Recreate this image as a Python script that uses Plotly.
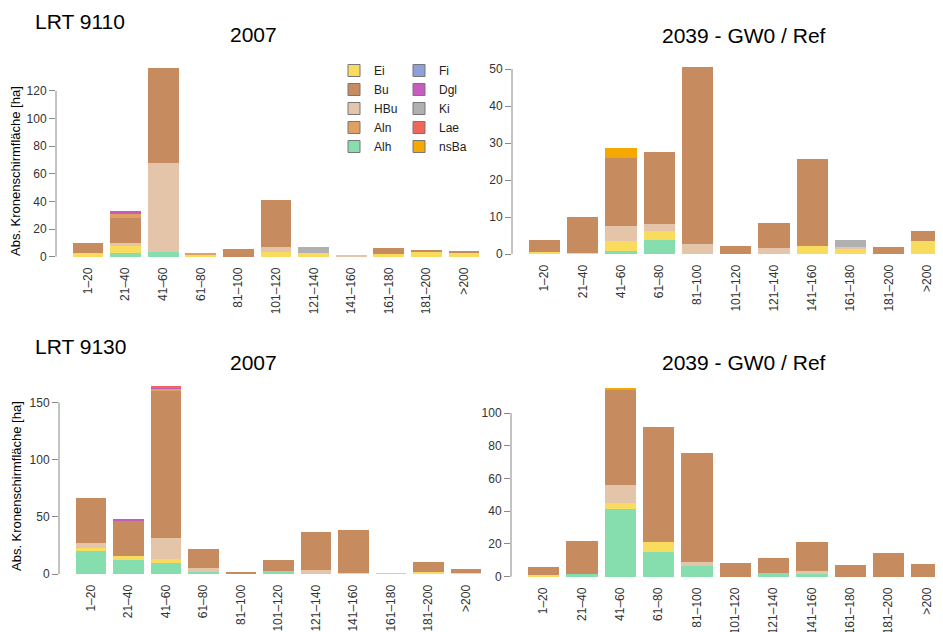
import plotly.graph_objects as go

# Durchmesserklassen (BHD) und Baumarten
klassen = ['1–20', '21–40', '41–60', '61–80', '81–100', '101–120',
           '121–140', '141–160', '161–180', '181–200', '>200']
arten = ['Ei', 'Bu', 'HBu', 'Aln', 'Alh', 'Fi', 'Dgl', 'Ki', 'Lae', 'nsBa']
stapel = ['Alh', 'Ei', 'HBu', 'Bu', 'Aln', 'Fi', 'Dgl', 'Ki', 'Lae', 'nsBa']
farben = {
    'Ei': '#F9DC5E', 'Bu': '#C68C60', 'HBu': '#E4C5A9', 'Aln': '#DFA062',
    'Alh': '#86DDAE', 'Fi': '#8E9FDB', 'Dgl': '#C65CBD', 'Ki': '#B0B0B0',
    'Lae': '#F0665A', 'nsBa': '#F4A800',
}

# Abs. Kronenschirmflaeche [ha], LRT 9110 - 2007
lrt9110_2007 = {
    'Alh': [0, 3, 3.6, 0, 0, 0, 0, 0, 0, 0, 0],
    'Ei':  [2.4, 4.5, 0, 1, 0, 3.6, 2.4, 0, 1.7, 3.1, 3],
    'HBu': [0, 2.7, 64, 0, 0, 3.1, 0, 0.8, 0, 0, 0],
    'Bu':  [7.5, 18, 68.8, 0, 5.5, 34.3, 0, 0, 4.3, 1.7, 1.3],
    'Aln': [0, 2.5, 0, 1.9, 0, 0, 0, 0, 0, 0, 0],
    'Dgl': [0, 2, 0, 0, 0, 0, 0, 0, 0, 0, 0],
    'Ki':  [0, 0, 0, 0, 0, 0, 4.6, 0, 0, 0, 0],
}

# LRT 9110 - 2039 GW0 / Ref
lrt9110_2039 = {
    'Alh':  [0, 0, 0.8, 3.8, 0, 0, 0, 0, 0, 0, 0],
    'Ei':   [0.6, 0.2, 2.7, 2.5, 0, 0, 0, 2.3, 1.5, 0, 3.5],
    'HBu':  [0, 0, 4.2, 1.7, 2.6, 0, 1.6, 0, 0.4, 0, 0],
    'Bu':   [3.2, 9.7, 18.2, 19.6, 48, 2.3, 6.9, 23.3, 0, 1.8, 2.8],
    'Ki':   [0, 0, 0, 0, 0, 0, 0, 0, 1.8, 0, 0],
    'nsBa': [0, 0, 2.8, 0, 0, 0, 0, 0, 0, 0, 0],
}

# LRT 9130 - 2007
lrt9130_2007 = {
    'Alh': [20.4, 12.2, 9.3, 2, 0, 2.9, 0, 0, 0, 0, 0],
    'Ei':  [2, 3.5, 3.5, 0, 0, 0, 0, 1.2, 0, 2, 1],
    'HBu': [4.4, 0, 18.4, 2.9, 0, 0, 3.5, 0, 0.3, 0, 0],
    'Bu':  [39.3, 30.6, 129.6, 17.2, 2, 9.3, 33.5, 37.3, 0, 8.2, 3],
    'Aln': [0, 0, 1.2, 0, 0, 0, 0, 0, 0, 0, 0],
    'Dgl': [0, 0.9, 0.8, 0, 0, 0, 0, 0, 0, 0, 0],
    'Lae': [0, 0, 1.2, 0, 0, 0, 0, 0, 0, 0, 0],
}

# LRT 9130 - 2039 GW0 / Ref
lrt9130_2039 = {
    'Alh':  [0, 1.6, 41.2, 14.8, 6.7, 0, 2.4, 1.6, 0, 0, 0],
    'Ei':   [0.8, 0, 3.9, 6.1, 0, 0, 0, 0, 0, 0, 0],
    'HBu':  [0, 0, 10.8, 0, 2, 0, 0, 2, 0, 0, 0],
    'Bu':   [5.1, 20.3, 58.8, 70.4, 67, 8.3, 8.8, 17.8, 7.3, 14.4, 7.9],
    'nsBa': [0, 0, 0.5, 0, 0, 0, 0, 0, 0, 0, 0],
}

# the page body has an 8px margin, so the figure sits at (8, 8) in the window
OFF = 8
W, H = 943 - OFF, 632 - OFF
FONT = 'Liberation Sans, Arial, sans-serif'

def px_x(p):
  return min((p - OFF) / W, 1)

def px_y(p):
  return 1 - (p - OFF) / H

# panel: data, axis suffix, x domain (px), y domain (px, top/bottom), x range, dtick
panels = [
    (lrt9110_2007, '',  (56, 496),  (60.7, 264.2),  [-0.85, 10.85], 20),
    (lrt9110_2039, '2', (512, 943), (59.4, 261.5),  [-0.85, 10.42], 10),
    (lrt9130_2007, '3', (59, 498),  (379.1, 581.5), [-0.85, 10.85], 50),
    (lrt9130_2039, '4', (511, 943), (380.7, 584.2), [-0.85, 10.42], 20),
]

fig = go.Figure()
layout = {}
shapes = []

for i, (daten, s, xd, yd, xr, dt) in enumerate(panels):
  for art in stapel:
    werte = daten.get(art, [0] * len(klassen))
    fig.add_trace(go.Bar(
        x=klassen, y=werte, name=art,
        marker=dict(color=farben[art], line=dict(width=0)),
        xaxis='x' + s, yaxis='y' + s,
        showlegend=False,
    ))

  totals = [sum(daten[a][k] for a in daten) for k in range(len(klassen))]
  ymax = max(totals)
  top_tick = int(ymax // dt) * dt

  layout['xaxis' + s] = dict(
      domain=[px_x(xd[0]), px_x(xd[1])], anchor='y' + s,
      type='category', range=xr, showline=False, ticks='',
      tickangle=-90, tickfont=dict(size=12, color='#333'),
      showgrid=False, zeroline=False, automargin=False,
  )
  layout['yaxis' + s] = dict(
      domain=[px_y(yd[1]), px_y(yd[0])], anchor='x' + s,
      range=[-0.04 * ymax, 1.04 * ymax],
      tickmode='array', tickvals=list(range(0, top_tick + 1, dt)),
      showline=False, ticks='outside', ticklen=6, tickcolor='#888',
      tickfont=dict(size=12, color='#333'),
      showgrid=False, zeroline=False, automargin=False,
  )
  shapes.append(dict(
      type='line', xref=('x' + s) + ' domain', yref='y' + s,
      x0=0, x1=0, y0=0, y1=top_tick, line=dict(color='#888', width=1),
  ))

# legend swatches with a grey outline, like the R legend
for art in arten:
  fig.add_trace(go.Bar(
      x=[None], y=[None], name=art,
      marker=dict(color=farben[art], line=dict(color='#777', width=1)),
      legend='legend' if arten.index(art) < 5 else 'legend2',
      legendrank=arten.index(art), hoverinfo='skip',
  ))

annotations = []

def text(t, x, y, size, anchor='center', angle=0):
  annotations.append(dict(
      text=t, x=px_x(x), y=px_y(y), xref='paper', yref='paper',
      xanchor=anchor, yanchor='middle', showarrow=False, textangle=angle,
      font=dict(size=size, color='black', family=FONT),
  ))

text('LRT 9110', 33, 21, 21, 'left')
text('2007', 253, 35, 21)
text('2039 - GW0 / Ref', 744, 36, 21)
text('LRT 9130', 33, 346, 21, 'left')
text('2007', 253, 362, 21)
text('2039 - GW0 / Ref', 744, 362, 21)
text('Abs. Kronenschirmfläche [ha]', 16, 171, 13, angle=-90)
text('Abs. Kronenschirmfläche [ha]', 16, 486, 13, angle=-90)

leg = dict(
    orientation='v', xanchor='left', yanchor='top', y=px_y(56),
    traceorder='normal', bgcolor='rgba(0,0,0,0)',
    font=dict(size=12, color='#222', family=FONT),
)

fig.update_layout(
    width=W, height=H,
    margin=dict(l=0, r=0, t=0, b=0),
    template='none',
    barmode='stack', bargap=0.18,
    plot_bgcolor='white', paper_bgcolor='white',
    font=dict(family=FONT, size=12, color='#333'),
    legend=dict(leg, x=px_x(334)),
    legend2=dict(leg, x=px_x(399)),
    shapes=shapes,
    annotations=annotations,
    **layout,
)

fig.write_html('out.html')
